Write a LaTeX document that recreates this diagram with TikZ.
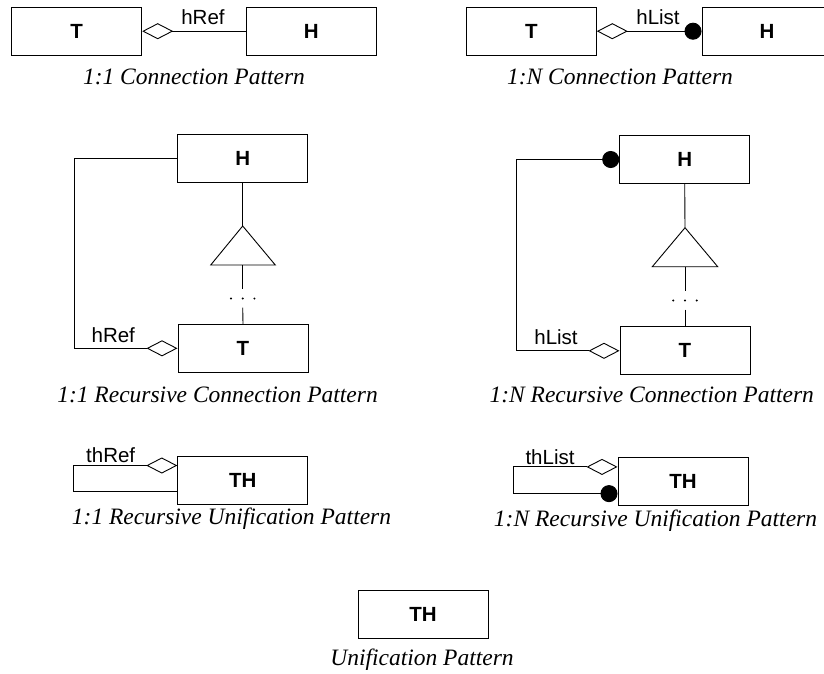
\documentclass[tikz,border=0pt]{standalone}
\usepackage{fontspec}
\setmainfont{Liberation Serif}
\setsansfont{Liberation Sans}
\usetikzlibrary{arrows.meta}
\tikzset{
  cls/.style={draw, line width=1pt, minimum width=130pt, minimum height=48pt, inner sep=0pt, font=\sffamily\bfseries\fontsize{20.5}{22}\selectfont},
  lbl/.style={inner sep=0pt, font=\sffamily\fontsize{20.5}{22}\selectfont},
  captxt/.style={inner sep=0pt, font=\itshape\fontsize{23.5}{26}\selectfont},
  conn/.style={line width=0.9pt},
  agg/.tip={Diamond[open, length=31pt, width=16pt, line width=0.9pt]},
  many/.tip={Circle[length=17pt]},
  dotsbox/.style={inner sep=0pt, minimum width=30pt, minimum height=18pt}
}
\begin{document}
\begin{tikzpicture}[x=1pt,y=-1pt]
\useasboundingbox (0,0) rectangle (824,673);
\clip (0,0) rectangle (824,673);

% Row 1 left: 1:1 connection
\node[cls] (T1) at (76.7,31.2) {T};
\node[cls] (H1) at (311.3,31.2) {H};
\draw[conn, agg-] (T1.east) -- (H1.west);
\node[lbl] (l1) at (203,17) {hRef};
\node[captxt] (c1) at (194,77) {1:1 Connection Pattern};

% Row 1 right: 1:N connection
\node[cls] (T2) at (531.3,31.2) {T};
\node[cls] (H2) at (767,31.2) {H};
\draw[conn, agg-many] (T2.east) -- (H2.west);
\node[lbl] (l2) at (658,17) {hList};
\node[captxt] (c2) at (620,77) {1:N Connection Pattern};

% Row 2 left: 1:1 recursive connection
\node[cls] (H3) at (242.7,158.2) {H};
\node[cls] (T3) at (243,348.3) {T};
\coordinate (ta3) at (242.7,226);
\coordinate (tr3) at (275.3,265);
\coordinate (tl3) at (210.7,265);
\coordinate (tb3) at (242.7,265);
\draw[conn] (ta3) -- (tr3) -- (tl3) -- cycle;
\node[dotsbox] (d3) at (242.7,298.5) {};
\draw[conn] (H3.south) -- (ta3);
\draw[conn] (tb3) -- (d3.north);
\draw[conn] (d3.south) -- (T3.north);
\foreach \dx in {-11.7,0,11.7} \fill ([xshift=\dx pt]d3.center) circle (1.1pt);
\coordinate (u3) at (74,0);
\draw[conn, agg-] (T3.west) -- (T3.west -| u3) |- (H3.west);
\node[lbl] (l3) at (113.3,335) {hRef};
\node[captxt] (c3) at (217.5,395) {1:1 Recursive Connection Pattern};

% Row 2 right: 1:N recursive connection
\node[cls] (H4) at (684.7,159.5) {H};
\node[cls] (T4) at (685,350.8) {T};
\coordinate (ta4) at (685,227.7);
\coordinate (tr4) at (717.7,266.7);
\coordinate (tl4) at (652.3,266.7);
\coordinate (tb4) at (685,266.7);
\draw[conn] (ta4) -- (tr4) -- (tl4) -- cycle;
\node[dotsbox] (d4) at (685,300.5) {};
\draw[conn] (H4.south) -- (ta4);
\draw[conn] (tb4) -- (d4.north);
\draw[conn] (d4.south) -- (T4.north);
\foreach \dx in {-11.7,0,11.7} \fill ([xshift=\dx pt]d4.center) circle (1.1pt);
\coordinate (u4) at (516,0);
\draw[conn, agg-many] (T4.west) -- (T4.west -| u4) |- (H4.west);
\node[lbl] (l4) at (556,337) {hList};
\node[captxt] (c4) at (651.7,395) {1:N Recursive Connection Pattern};

% Row 3 left: 1:1 recursive unification
\node[cls] (TH5) at (242.8,480) {TH};
\coordinate (u5) at (73.3,0);
\draw[conn, agg-] ([yshift=-10pt]TH5.north west) -- ([yshift=-10pt]TH5.north west -| u5) |- ([yshift=13pt]TH5.south west);
\node[lbl] (l5) at (110.7,455) {thRef};
\node[captxt] (c5) at (231.5,519) {1:1 Recursive Unification Pattern};

% Row 3 right: 1:N recursive unification
\node[cls] (TH6) at (683,481.8) {TH};
\coordinate (u6) at (513.3,0);
\draw[conn, agg-many] ([yshift=-9.6pt]TH6.north west) -- ([yshift=-9.6pt]TH6.north west -| u6) |- ([yshift=12.7pt]TH6.south west);
\node[lbl] (l6) at (550,457) {thList};
\node[captxt] (c6) at (655.5,521) {1:N Recursive Unification Pattern};

% Row 4: unification
\node[cls] (TH7) at (423,614.5) {TH};
\node[captxt] (c7) at (422,659.3) {Unification Pattern};
\end{tikzpicture}
\end{document}
